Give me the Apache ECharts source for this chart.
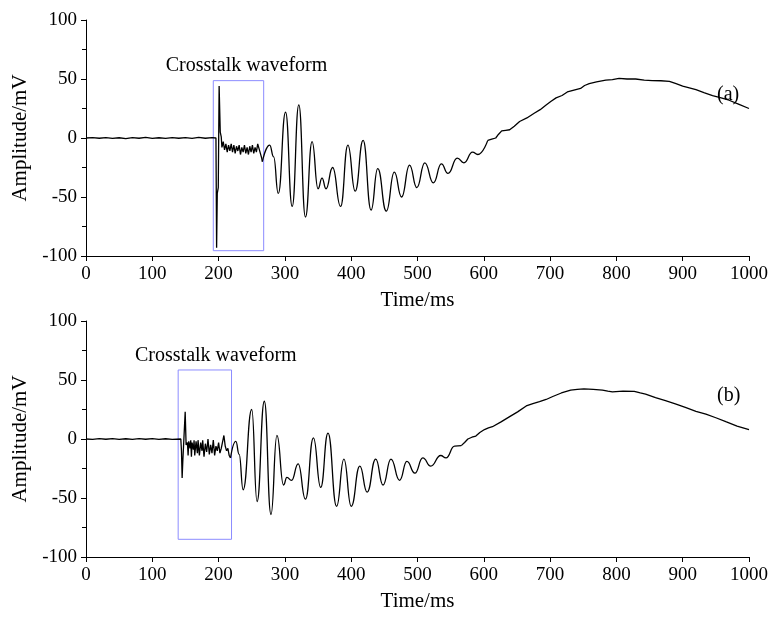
<!DOCTYPE html>
<html>
<head>
    <meta charset="UTF-8">
    <title>Crosstalk waveform</title>
    <style type="text/css">
        body{
            margin:0;
            padding:0;
            background-color:white;
        }
        #main{
            width:771px;
            height:619px;
        }
    </style>
</head>
<body>
<div id="main"></div>
<script src="https://cdn.jsdelivr.net/npm/echarts@6/dist/echarts.min.js"></script>
<script type="text/javascript">
    // [time ms, amplitude mV]
    // (a) quiet part + crosstalk spikes (straight segments)
    var quietA = [
        [0, 0], [10, 0.3], [20, -0.2], [30, 0.4], [40, -0.3], [50, 0.2], [60, -0.5], [70, 0.3],
        [80, -0.2], [90, 0.5], [100, -0.3], [110, 0.2], [120, -0.4], [130, 0.3], [140, -0.2],
        [150, 0.4], [160, -0.3], [170, 0.6], [180, -0.2], [190, 0.3], [196, 0],
        [197, -93], [198, -47], [199.5, -42], [200.8, 44], [202.5, 5], [204, 1], [205, -8],
        [207, -3], [209, -10], [211, -5], [213, -12], [215, -6], [217, -11], [219, -5], [221, -12],
        [223, -6], [225, -13], [227, -7], [229, -11], [231, -6], [233, -14], [235, -8], [237, -12],
        [239, -6], [241, -13], [243, -8], [245, -14], [247, -7], [249, -12], [251, -6], [253, -13],
        [255, -8], [257, -12], [259, -5], [261, -9], [263, -13], [265, -17], [266, -20]
    ];
    // (a) oscillations: peaks and troughs (smoothed)
    var waveA = [
        [266, -20], [277, -6], [283, -16], [290, -47], [301, 22], [311, -58], [321, 28], [331, -67],
        [341, -3], [350, -43], [356, -34], [362, -43], [372, -25], [384, -58], [395, -6], [406, -45],
        [418, -2], [430, -61], [440, -26], [453, -62], [465, -29], [476, -50], [488, -23], [499, -42],
        [511, -21], [524, -38], [536, -22], [546, -30], [560, -17], [570, -21], [583, -12], [591, -14],
        [606, -2]
    ];
    // (a) slow trend
    var trendA = [
        [606, -2], [612, -1], [618, 0], [622, 3], [627, 6], [633, 6.5], [639, 7], [646, 10],
        [654, 14], [665, 17], [676, 21], [685, 24], [694, 28], [701, 31], [709, 34], [718, 36],
        [726, 39], [736, 40.5], [746, 42], [752, 44.5], [759, 46], [770, 47.5], [784, 49],
        [794, 49.5], [804, 50.5], [816, 50], [829, 50], [842, 49], [854, 48.6], [867, 48.5],
        [880, 48], [890, 46], [900, 44], [910, 42.5], [920, 41], [932, 38.5], [945, 36],
        [958, 34], [970, 32], [985, 28.5], [1000, 25]
    ];
    // (b)
    var quietB = [
        [0, 0], [10, -0.3], [20, 0.3], [30, -0.2], [40, 0.4], [50, -0.3], [60, 0.2], [70, -0.4],
        [80, 0.3], [90, -0.2], [100, 0.4], [110, -0.3], [120, 0.2], [130, -0.3], [143, 0],
        [144, -10], [145, -33], [146, -19], [147.5, -20], [149.6, 23], [151, -5], [152, -6],
        [153, -3], [154, -14], [155, -2], [157, -8], [158, -1], [159, -15], [160, -3], [162, -9],
        [163, -1], [164, -14], [166, -2], [168, -12], [169, -1], [171, -14], [173, -3], [175, -10],
        [176, -1], [178, -15], [180, -4], [182, -11], [184, 0], [186, -13], [188, -5], [190, -12],
        [192, -1], [194, -14], [196, -6], [198, -10], [200, -3], [202, -12], [204, -8], [206, -9],
        [208, 3], [210, -6], [212, -10], [214, -8], [216, -14], [218, -16]
    ];
    var waveB = [
        [218, -16], [226, -2], [231, -13], [237, -43], [250, 25], [258, -53], [269, 32], [279, -64],
        [288, 3], [298, -39], [303, -32.5], [310, -35], [320, -21], [331, -51], [343, 1], [354, -41],
        [365, 5], [378, -57], [389, -17], [400, -57], [413, -23], [424, -45], [437, -17], [448, -39],
        [460, -17], [473, -35], [484, -19], [496, -29], [508, -16], [520, -23], [535, -14], [543, -16],
        [556, -6], [566, -5.6]
    ];
    var trendB = [
        [566, -5.6], [571, -3], [576, 0], [582, 1.5], [588, 2.5], [594, 5.5], [601, 8], [607, 9.5],
        [613, 10.4], [626, 14.5], [639, 19], [651, 23], [664, 28], [674, 30], [684, 31.6],
        [694, 33.5], [704, 36], [717, 39], [731, 41.5], [741, 42], [751, 42.4], [765, 42],
        [779, 41.5], [787, 40.5], [794, 40], [810, 40.5], [827, 40.4], [836, 39], [844, 38],
        [859, 35], [874, 32.5], [890, 29.5], [905, 26.5], [920, 23.5], [935, 21], [950, 18],
        [965, 14.7], [982, 11], [1000, 8]
    ];
    // crosstalk boxes: [t0, t1, vMin, vMax]
    var boxA = [192, 268, -95.5, 48.6];
    var boxB = [139, 219.5, -85, 58.5];
    var boxText = 'Crosstalk waveform';
    var panelNames = ['(a)', '(b)'];

    var font = 'Liberation Serif';
    var myChart = echarts.init(document.getElementById('main'));

    function xAxisOf(i) {
        return {
            gridIndex: i, type: 'value', min: 0, max: 1000, interval: 100,
            name: 'Time/ms', nameLocation: 'middle', nameGap: 34,
            nameTextStyle: {color: '#000', fontFamily: font, fontSize: 21},
            axisLine: {onZero: false, lineStyle: {color: '#000', width: 1}},
            axisTick: {inside: false, length: 5, lineStyle: {color: '#000'}},
            axisLabel: {color: '#000', fontFamily: font, fontSize: 19, margin: 9,
                formatter: function(v) { return String(v); }},
            splitLine: {show: false}
        };
    }
    function yAxisOf(i) {
        return {
            gridIndex: i, type: 'value', min: -100, max: 100, interval: 50,
            name: 'Amplitude/mV', nameLocation: 'middle', nameGap: 38,
            nameTextStyle: {color: '#000', fontFamily: font, fontSize: 21},
            axisLine: {show: true, onZero: false, lineStyle: {color: '#000', width: 1}},
            axisTick: {inside: false, length: 5, lineStyle: {color: '#000'}},
            minorTick: {show: true, splitNumber: 2, length: 4, lineStyle: {color: '#000'}},
            axisLabel: {color: '#000', fontFamily: font, fontSize: 19, margin: 9},
            splitLine: {show: false}
        };
    }
    function boxArea(b, dx) {
        return {
            silent: true,
            itemStyle: {color: 'rgba(0,0,0,0)', borderColor: '#8c8cff', borderWidth: 1},
            label: {
                show: true, position: 'top', distance: 4, offset: [dx, 0],
                formatter: boxText, color: '#000', fontFamily: font, fontSize: 20
            },
            data: [[{xAxis: b[0], yAxis: b[3]}, {xAxis: b[1], yAxis: b[2]}]]
        };
    }
    function line(i, data, smooth, area) {
        var s = {
            type: 'line', xAxisIndex: i, yAxisIndex: i, data: data,
            showSymbol: false, smooth: smooth,
            lineStyle: {color: '#000', width: 1.3}
        };
        if (smooth) s.smoothMonotone = 'x';
        if (area) s.markArea = area;
        return s;
    }

    var option = {
        animation: false,
        backgroundColor: '#fff',
        title: [
            {text: panelNames[0], left: 717, top: 85, padding: 0,
                textStyle: {color: '#000', fontFamily: font, fontSize: 20, fontWeight: 'normal'}},
            {text: panelNames[1], left: 717, top: 386, padding: 0,
                textStyle: {color: '#000', fontFamily: font, fontSize: 20, fontWeight: 'normal'}}
        ],
        grid: [
            {left: 86, right: 21, top: 20, height: 236},
            {left: 86, right: 21, top: 321, height: 236}
        ],
        xAxis: [xAxisOf(0), xAxisOf(1)],
        yAxis: [yAxisOf(0), yAxisOf(1)],
        series: [
            line(0, quietA, false, boxArea(boxA, 8)),
            line(0, waveA, 0.5),
            line(0, trendA, false),
            line(1, quietB, false, boxArea(boxB, 11)),
            line(1, waveB, 0.5),
            line(1, trendB, false)
        ]
    };
    myChart.setOption(option);
</script>
</body>
</html>
